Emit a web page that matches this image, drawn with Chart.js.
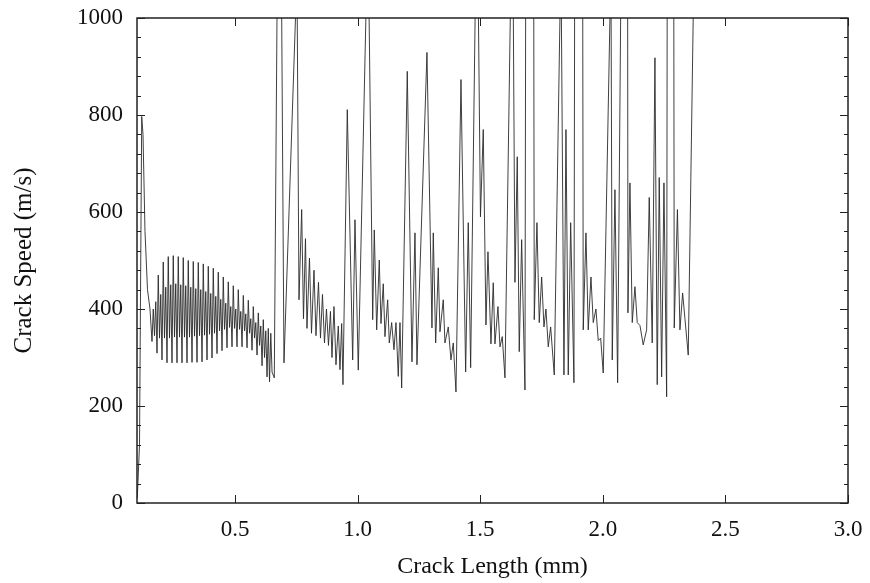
<!DOCTYPE html>
<html>
<head>
<meta charset="utf-8">
<title>Crack Speed vs Crack Length</title>
<script src="https://cdn.jsdelivr.net/npm/chart.js@4.4.0/dist/chart.umd.min.js"></script>
<style>
  html, body { margin: 0; padding: 0; background: #fff; }
  #wrap { width: 870px; height: 583px; }
</style>
</head>
<body>
<div id="wrap"><canvas id="crackChart" width="870" height="583"></canvas></div>
<script>
// Crack length (mm)
const crackLength = [
  0.1012, 0.1102, 0.1192, 0.1245, 0.1326, 0.1428, 0.1530,
  0.1612, 0.1663, 0.1714, 0.1765, 0.1816, 0.1867, 0.1918, 0.1969, 0.2020, 0.2071,
  0.2122, 0.2173, 0.2224, 0.2275, 0.2326, 0.2377, 0.2428, 0.2479, 0.2530, 0.2581,
  0.2632, 0.2683, 0.2734, 0.2785, 0.2836, 0.2887, 0.2938, 0.2989, 0.3040, 0.3091,
  0.3142, 0.3193, 0.3244, 0.3295, 0.3346, 0.3397, 0.3448, 0.3499, 0.3550, 0.3601,
  0.3652, 0.3703, 0.3754, 0.3805, 0.3856, 0.3907, 0.3958, 0.4009, 0.4060, 0.4111,
  0.4162, 0.4213, 0.4264, 0.4315, 0.4366, 0.4417, 0.4468, 0.4519, 0.4570, 0.4621,
  0.4672, 0.4723, 0.4774, 0.4825, 0.4876, 0.4927, 0.4978, 0.5029, 0.5080, 0.5131,
  0.5182, 0.5233, 0.5284, 0.5335, 0.5386, 0.5437, 0.5488, 0.5539, 0.5590, 0.5641,
  0.5692, 0.5743, 0.5794, 0.5845, 0.5896, 0.5947, 0.5998, 0.6049, 0.6100, 0.6151,
  0.6202, 0.6253, 0.6304, 0.6355, 0.6406, 0.6457, 0.6508, 0.6600,
  0.6812, 0.6995, 0.7525,
  0.7607, 0.7717, 0.7790, 0.7872, 0.7933, 0.8035, 0.8117, 0.8219, 0.8300, 0.8402,
  0.8484, 0.8565, 0.8647, 0.8728, 0.8810, 0.8891, 0.8953, 0.9034, 0.9116, 0.9210,
  0.9279, 0.9348, 0.9401,
  0.9577, 0.9797, 0.9891, 1.0025, 1.0421, 1.0613, 1.0678, 1.0776, 1.0882, 1.0951,
  1.1045, 1.1114, 1.1224, 1.1290, 1.1387, 1.1481, 1.1563, 1.1657, 1.1726, 1.1795,
  1.2024, 1.2215, 1.2338, 1.2419,
  1.2827, 1.3031, 1.3084, 1.3182, 1.3288, 1.3357, 1.3492, 1.3561, 1.3696, 1.3806,
  1.3900, 1.4010, 1.4214, 1.4405, 1.4511, 1.4609, 1.4866, 1.5009, 1.5123, 1.5233,
  1.5315, 1.5437, 1.5531, 1.5600, 1.5723, 1.5804, 1.5898, 1.6008, 1.6314, 1.6416,
  1.6510, 1.6591, 1.6689, 1.6824, 1.7028, 1.7203,
  1.7313, 1.7407, 1.7505, 1.7599, 1.7680, 1.7774, 1.7872, 1.8019, 1.8292, 1.8414,
  1.8496, 1.8590, 1.8688, 1.8822, 1.9026, 1.9201, 1.9312, 1.9405, 1.9516, 1.9609,
  1.9719, 1.9813, 1.9911, 2.0017, 2.0331, 2.0384, 2.0494, 2.0604, 2.0984, 2.1024,
  2.1106, 2.1200, 2.1310, 2.1404, 2.1514, 2.1648, 2.1787, 2.1893, 2.2015, 2.2126,
  2.2219, 2.2301, 2.2399, 2.2493, 2.2603, 2.2758, 2.2913, 2.3043, 2.3145, 2.3255,
  2.3349, 2.3484, 2.3716
];

// Crack speed (m/s); spikes past the top of the frame are clipped
const crackSpeed = [
  10, 120, 797, 760, 560, 440, 400,
  333, 400, 345, 415, 309, 470, 340, 430, 295, 497,
  340, 445, 289, 508, 340, 450, 289, 510, 342, 452,
  289, 508, 342, 450, 289, 506, 342, 448, 289, 500,
  342, 445, 290, 498, 344, 442, 290, 496, 345, 440,
  291, 493, 346, 436, 295, 488, 348, 432, 299, 484,
  350, 426, 308, 476, 355, 420, 314, 466, 358, 412,
  320, 456, 362, 405, 322, 448, 360, 400, 322, 440,
  358, 395, 322, 428, 355, 390, 320, 418, 350, 380,
  315, 405, 340, 372, 305, 392, 325, 365, 283, 378,
  300, 355, 260, 360, 250, 350, 270, 258,
  1685, 289, 1092,
  419, 605, 380, 545, 360, 505, 350, 480, 345, 455,
  340, 430, 330, 400, 325, 395, 300, 405, 285, 365,
  275, 370, 244,
  811, 295, 584, 274, 1200, 378, 563, 357, 501, 370,
  452, 343, 419, 330, 372, 316, 372, 261, 372, 237,
  890, 291, 557, 285,
  929, 361, 557, 330, 485, 353, 419, 330, 363, 295,
  330, 229, 873, 270, 578, 279, 1300, 590, 770, 367,
  518, 328, 454, 328, 405, 322, 343, 258, 1300, 455,
  714, 312, 543, 233, 6000, 378,
  578, 372, 466, 363, 400, 322, 363, 264, 1130, 264,
  770, 264, 578, 248, 6000, 357, 557, 357, 466, 372,
  400, 335, 340, 268, 1110, 295, 646, 248, 2580, 392,
  660, 372, 446, 372, 366, 326, 357, 630, 330, 918,
  244, 671, 260, 660, 219, 6000, 361, 605, 357, 433,
  380, 305, 1100
];

const xTickValues = [0.5, 1.0, 1.5, 2.0, 2.5, 3.0];
const yTickValues = [0, 200, 400, 600, 800, 1000];
const yMinorValues = [40, 80, 120, 160, 240, 280, 320, 360, 440, 480, 520, 560,
  640, 680, 720, 760, 840, 880, 920, 960];

const serif = "'Liberation Serif', 'DejaVu Serif', serif";

// Frame and inward tick marks on all four sides
const frameTicks = {
  id: 'frameTicks',
  afterDatasetsDraw(chart) {
    const { ctx, chartArea: a, scales: { x, y } } = chart;
    ctx.save();
    ctx.strokeStyle = '#222';
    ctx.lineWidth = 1;
    ctx.beginPath();
    xTickValues.forEach(v => {
      const px = Math.round(x.getPixelForValue(v)) + 0.5;
      ctx.moveTo(px, a.bottom); ctx.lineTo(px, a.bottom - 8);
      ctx.moveTo(px, a.top); ctx.lineTo(px, a.top + 8);
    });
    yTickValues.forEach(v => {
      const py = Math.round(y.getPixelForValue(v)) + 0.5;
      ctx.moveTo(a.left, py); ctx.lineTo(a.left + 8, py);
      ctx.moveTo(a.right, py); ctx.lineTo(a.right - 8, py);
    });
    yMinorValues.forEach(v => {
      const py = Math.round(y.getPixelForValue(v)) + 0.5;
      ctx.moveTo(a.left, py); ctx.lineTo(a.left + 4, py);
      ctx.moveTo(a.right, py); ctx.lineTo(a.right - 4, py);
    });
    ctx.stroke();
    ctx.lineWidth = 1.5;
    ctx.strokeRect(a.left, a.top, a.right - a.left, a.bottom - a.top);
    ctx.restore();
  }
};

new Chart(document.getElementById('crackChart'), {
  type: 'line',
  data: {
    datasets: [{
      data: crackLength.map((v, i) => ({ x: v, y: crackSpeed[i] })),
      borderColor: '#2a2a2a',
      borderWidth: 0.9,
      pointRadius: 0,
      tension: 0,
      fill: false
    }]
  },
  options: {
    responsive: false,
    animation: false,
    devicePixelRatio: 1,
    layout: { padding: { left: 0, top: 18, right: 22, bottom: 0 } },
    plugins: { legend: { display: false }, tooltip: { enabled: false } },
    scales: {
      x: {
        type: 'linear',
        min: 0.1,
        max: 3.0,
        afterBuildTicks: scale => { scale.ticks = xTickValues.map(v => ({ value: v })); },
        afterFit: scale => {
          scale.height = 80;
          scale.paddingLeft = 0;
          scale.paddingRight = 0;
        },
        grid: { display: false },
        border: { display: false },
        ticks: {
          color: '#111',
          padding: 5,
          maxRotation: 0,
          font: { family: serif, size: 23 },
          callback: v => Number(v).toFixed(1)
        },
        title: {
          display: true,
          text: 'Crack Length (mm)',
          color: '#111',
          font: { family: serif, size: 24 },
          padding: { top: 0, bottom: 2 }
        }
      },
      y: {
        min: 0,
        max: 1000,
        afterBuildTicks: scale => { scale.ticks = yTickValues.map(v => ({ value: v })); },
        afterFit: scale => {
          scale.width = 137;
          scale.paddingTop = 0;
          scale.paddingBottom = 0;
        },
        grid: { display: false },
        border: { display: false },
        ticks: {
          color: '#111',
          padding: 6,
          font: { family: serif, size: 23 },
          callback: v => String(v)
        },
        title: {
          display: true,
          text: 'Crack Speed (m/s)',
          color: '#111',
          font: { family: serif, size: 25 },
          padding: { top: 9, bottom: 0 }
        }
      }
    }
  },
  plugins: [frameTicks]
});
</script>
</body>
</html>
